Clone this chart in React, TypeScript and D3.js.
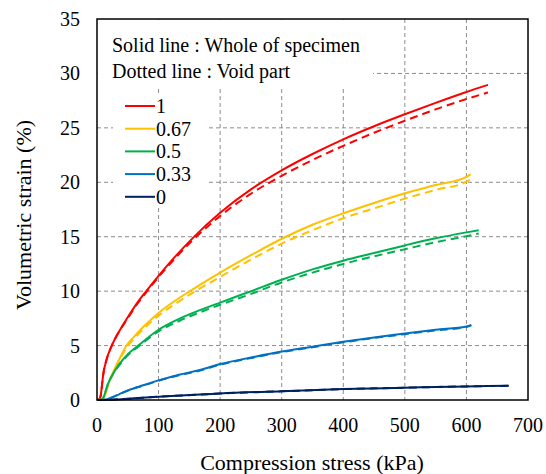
import React from "react";
import * as d3 from "d3";

// stress (kPa) / volumetric strain (%)
const red = [[0,0],[4,0.1],[6,0.4],[8,1.3],[10,2.3],[15,3.6],[24,5.0],[35,6.2],[50,7.6],[65,8.9],[80,10.0],[100,11.4],[125,13.05],[155,14.85],[200,17.2],[250,19.35],[300,21.1],[350,22.6],[400,23.95],[450,25.15],[500,26.25],[550,27.3],[600,28.3],[635,28.95]];
const redVoid = [[0,0],[4,0.1],[6,0.4],[8,1.3],[10,2.3],[15,3.6],[24,5.0],[35,6.2],[50,7.5],[65,8.8],[80,9.9],[100,11.3],[125,12.9],[155,14.65],[200,16.9],[250,18.95],[300,20.6],[350,22.05],[400,23.35],[450,24.55],[500,25.65],[550,26.7],[600,27.65],[635,28.25]];
const yellow = [[0,0],[8,0.05],[12,0.3],[15,0.8],[18,1.4],[25,2.4],[35,3.6],[48,5.0],[60,5.8],[75,6.7],[100,8.0],[125,9.05],[151,10.0],[200,11.7],[250,13.3],[305,14.95],[350,16.1],[400,17.15],[450,18.1],[500,19.0],[550,19.75],[600,20.5],[607,20.75]];
const yellowVoid = [[0,0],[8,0.05],[12,0.3],[15,0.8],[18,1.4],[25,2.3],[35,3.5],[48,4.8],[60,5.6],[75,6.5],[100,7.75],[125,8.75],[151,9.7],[200,11.3],[250,12.9],[305,14.5],[350,15.6],[400,16.7],[450,17.6],[500,18.5],[550,19.3],[600,20.05],[607,20.3]];
const green = [[0,0],[8,0.05],[11,0.3],[14,0.8],[18,1.5],[25,2.3],[35,3.2],[50,4.2],[67,5.0],[100,6.45],[135,7.5],[167,8.25],[200,8.95],[248,9.95],[300,11.05],[350,12.0],[400,12.8],[450,13.5],[500,14.2],[550,14.85],[600,15.4],[620,15.6]];
const greenVoid = [[0,0],[8,0.05],[11,0.3],[14,0.8],[18,1.5],[25,2.3],[35,3.1],[50,4.1],[67,4.9],[100,6.3],[135,7.3],[167,8.05],[200,8.75],[248,9.7],[300,10.8],[350,11.7],[400,12.5],[450,13.2],[500,13.85],[550,14.5],[600,15.05],[620,15.3]];
const blue = [[0,0],[10,0],[20,0.15],[35,0.5],[51,0.9],[75,1.35],[100,1.8],[135,2.35],[167,2.75],[200,3.3],[250,3.9],[300,4.45],[350,4.9],[400,5.35],[450,5.75],[500,6.1],[550,6.45],[600,6.75],[608,6.9]];
const blueVoid = [[0,0],[10,0],[20,0.15],[35,0.5],[51,0.88],[75,1.32],[100,1.77],[135,2.3],[167,2.7],[200,3.25],[250,3.85],[300,4.4],[350,4.85],[400,5.3],[450,5.7],[500,6.05],[550,6.4],[600,6.7],[608,6.85]];
const navy = [[0,0],[30,0.05],[60,0.15],[100,0.3],[167,0.5],[200,0.6],[300,0.8],[400,1.0],[500,1.13],[600,1.25],[669,1.3]];
const navyVoid = [[0,0],[30,0.05],[60,0.15],[100,0.3],[167,0.5],[200,0.6],[300,0.8],[400,1.0],[500,1.13],[600,1.25],[669,1.3]];

const seriesNames = ["1", "0.67", "0.5", "0.33", "0"];
const seriesColors = ["#ff0000", "#ffc000", "#00b050", "#0070c0", "#002060"];
const solidData = [red, yellow, green, blue, navy];
const voidData = [redVoid, yellowVoid, greenVoid, blueVoid, navyVoid];

const xTicks = [0, 100, 200, 300, 400, 500, 600, 700];
const yTicks = [0, 5, 10, 15, 20, 25, 30, 35];

const W = 546, H = 474;
const left = 97, right = 528, top = 19, bottom = 400;
const serif = { fontFamily: "'Liberation Serif', 'Times New Roman', Times, serif" };

export default function App() {
  const x = d3.scaleLinear().domain([0, 700]).range([left, right]);
  const y = d3.scaleLinear().domain([0, 35]).range([bottom, top]);
  const line = d3.line<number[]>()
    .x((d) => x(d[0]))
    .y((d) => y(d[1]))
    .curve(d3.curveMonotoneX);

  return (
    <svg width={W} height={H} style={{ position: "fixed", left: 0, top: 0, background: "#fff" }}>
      <rect width={W} height={H} fill="#fff" />
      {/* grid */}
      {xTicks.slice(1, -1).map((t) => (
        <line key={"gx" + t} x1={x(t)} x2={x(t)} y1={top} y2={bottom}
          stroke="#8c8c8c" strokeDasharray="4,3" strokeWidth={1} />
      ))}
      {yTicks.slice(1, -1).map((t) => (
        <line key={"gy" + t} x1={left} x2={right} y1={y(t)} y2={y(t)}
          stroke="#8c8c8c" strokeDasharray="4,3" strokeWidth={1} />
      ))}
      {/* text box + legend box hide the grid */}
      <rect x={left + 1} y={top + 1} width={275} height={68} fill="#fff" />
      <rect x={113} y={96} width={93} height={109} fill="#fff" />
      <text x={112} y={52} fontSize={20} style={serif}>Solid line : Whole of specimen</text>
      <text x={112} y={78} fontSize={20} style={serif}>Dotted line : Void part</text>
      {seriesNames.map((n, i) => (
        <g key={"lg" + n}>
          <line x1={125} x2={155} y1={106 + i * 22.7} y2={106 + i * 22.7}
            stroke={seriesColors[i]} strokeWidth={2} />
          <text x={156} y={106 + i * 22.7 + 6.8} fontSize={20} style={serif}>{n}</text>
        </g>
      ))}
      {/* curves */}
      {voidData.map((d, i) => (
        <path key={"v" + i} d={line(d) || ""} fill="none" stroke={seriesColors[i]}
          strokeWidth={2} strokeDasharray="8,5" />
      ))}
      {solidData.map((d, i) => (
        <path key={"s" + i} d={line(d) || ""} fill="none" stroke={seriesColors[i]}
          strokeWidth={2} />
      ))}
      {/* frame */}
      <rect x={left} y={top} width={right - left} height={bottom - top} fill="none"
        stroke="#000" strokeWidth={1.5} />
      {/* tick labels */}
      {xTicks.map((t) => (
        <text key={"xl" + t} x={x(t)} y={432} fontSize={20} textAnchor="middle" style={serif}>{t}</text>
      ))}
      {yTicks.map((t) => (
        <text key={"yl" + t} x={80} y={y(t) + 7} fontSize={20} textAnchor="end" style={serif}>{t}</text>
      ))}
      <text x={312} y={470} fontSize={22} textAnchor="middle" style={serif}>Compression stress (kPa)</text>
      <text transform={`translate(31,${215}) rotate(-90)`} fontSize={22} textAnchor="middle" style={serif}>
        Volumetric strain (%)
      </text>
    </svg>
  );
}
